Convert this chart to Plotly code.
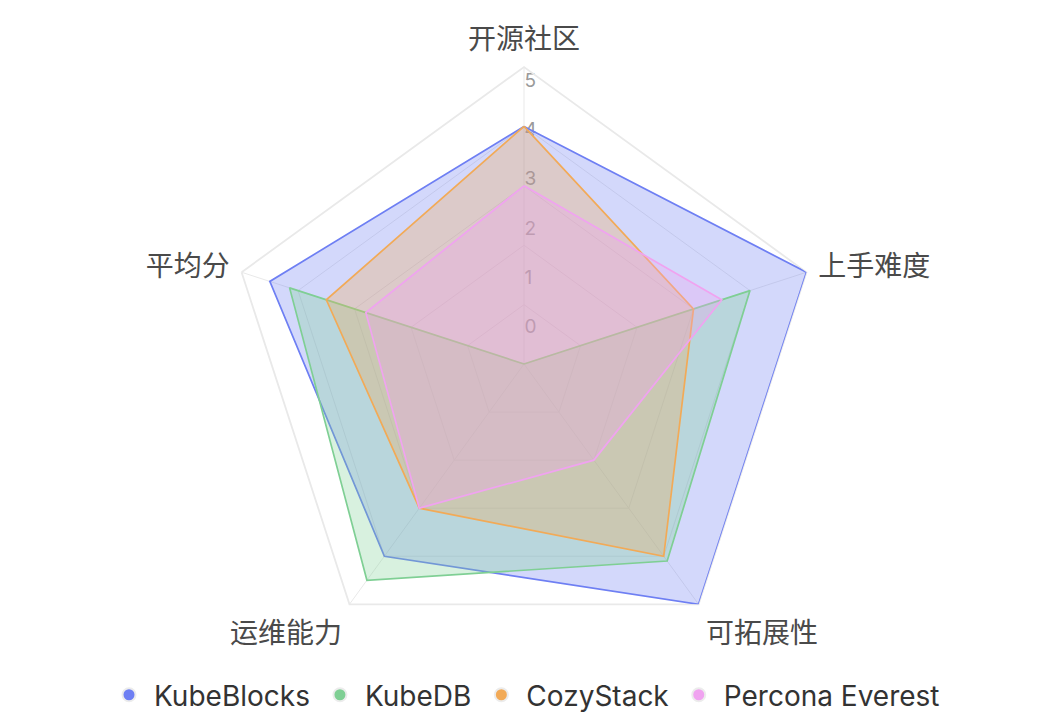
import plotly.graph_objects as go

categories = ['开源社区', '上手难度', '可拓展性', '运维能力', '平均分']
series_names = ['KubeBlocks', 'KubeDB', 'CozyStack', 'Percona Everest']
kubeblocks = [4, 5, 5, 4, 4.5]
kubedb = [0, 4, 4.1, 4.5, 4.15]
cozystack = [4, 3, 4, 3, 3.5]
percona = [3, 3.5, 2, 3, 2.8]
radial_ticks = [0, 1, 2, 3, 4, 5]

series_values = [kubeblocks, kubedb, cozystack, percona]
line_colors = ['#6E7FF3', '#7FCF94', '#F2AA57', '#F0A3F0']


def rgba(hex_color, a):
    h = hex_color.lstrip('#')
    r, g, b = int(h[0:2], 16), int(h[2:4], 16), int(h[4:6], 16)
    return f'rgba({r},{g},{b},{a})'


FONT = 'Inter, "Noto Sans CJK SC", "Noto Sans", sans-serif'
GRID = '#e9e9e9'

fig = go.Figure()

# bottom layer: radial tick labels (ECharts places them offset from the rings)
fig.add_trace(go.Scatterpolar(r=[None], theta=[None], subplot='polar',
                              showlegend=False, hoverinfo='skip'))

for name, vals, c in zip(series_names, series_values, line_colors):
    fig.add_trace(go.Scatterpolar(
        r=vals + [vals[0]],
        theta=categories + [categories[0]],
        mode='lines',
        fill='toself',
        fillcolor=rgba(c, 0.3),
        line=dict(color=c, width=1.7),
        name=name,
        legendgroup=name,
        showlegend=False,
        subplot='polar2',
    ))

for name, c in zip(series_names, line_colors):
    fig.add_trace(go.Scatterpolar(
        r=[None], theta=[None],
        mode='markers',
        marker=dict(color=c, size=13, line=dict(color='#ececec', width=2)),
        name=name,
        legendgroup=name,
        subplot='polar2',
    ))

label_offset = 0.62
label_scale = 0.83
label_pos = [label_offset + label_scale * t for t in radial_ticks]

domain_x = [0.2164, 0.7827]
domain_y = [0.087, 0.9074]

fig.update_layout(
    width=1049,
    height=724,
    margin=dict(l=0, r=0, t=0, b=0),
    paper_bgcolor='white',
    plot_bgcolor='white',
    font=dict(family=FONT, color='#333333'),
    polar=dict(
        domain=dict(x=domain_x, y=domain_y),
        bgcolor='rgba(0,0,0,0)',
        angularaxis=dict(visible=False),
        radialaxis=dict(
            range=[0, 5],
            angle=90,
            tickangle=90,
            tickvals=label_pos,
            ticktext=[str(t) for t in radial_ticks],
            showgrid=False,
            showline=False,
            ticks='',
            tickfont=dict(size=19, color='#9a9a9a', family=FONT),
        ),
    ),
    polar2=dict(
        domain=dict(x=domain_x, y=domain_y),
        bgcolor='rgba(0,0,0,0)',
        gridshape='linear',
        angularaxis=dict(
            direction='clockwise',
            rotation=90,
            categoryorder='array',
            categoryarray=categories,
            showline=True,
            linecolor=GRID,
            linewidth=1.8,
            gridcolor=GRID,
            ticks='outside',
            ticklen=6,
            tickcolor='rgba(0,0,0,0)',
            tickfont=dict(size=28, color='#4a4a4a', family=FONT),
            layer='below traces',
        ),
        radialaxis=dict(
            range=[0, 5],
            tickvals=[1, 2, 3, 4, 5],
            showticklabels=False,
            showline=False,
            ticks='',
            gridcolor=GRID,
            layer='below traces',
        ),
    ),
    legend=dict(
        orientation='h',
        x=0.5, xanchor='center',
        y=0.04, yanchor='middle',
        itemwidth=40,
        font=dict(size=28, color='#333333', family=FONT),
        itemclick='toggle',
    ),
)

fig.write_html('out.html', config={'displayModeBar': False},
               post_script="document.body.style.margin='0';")
